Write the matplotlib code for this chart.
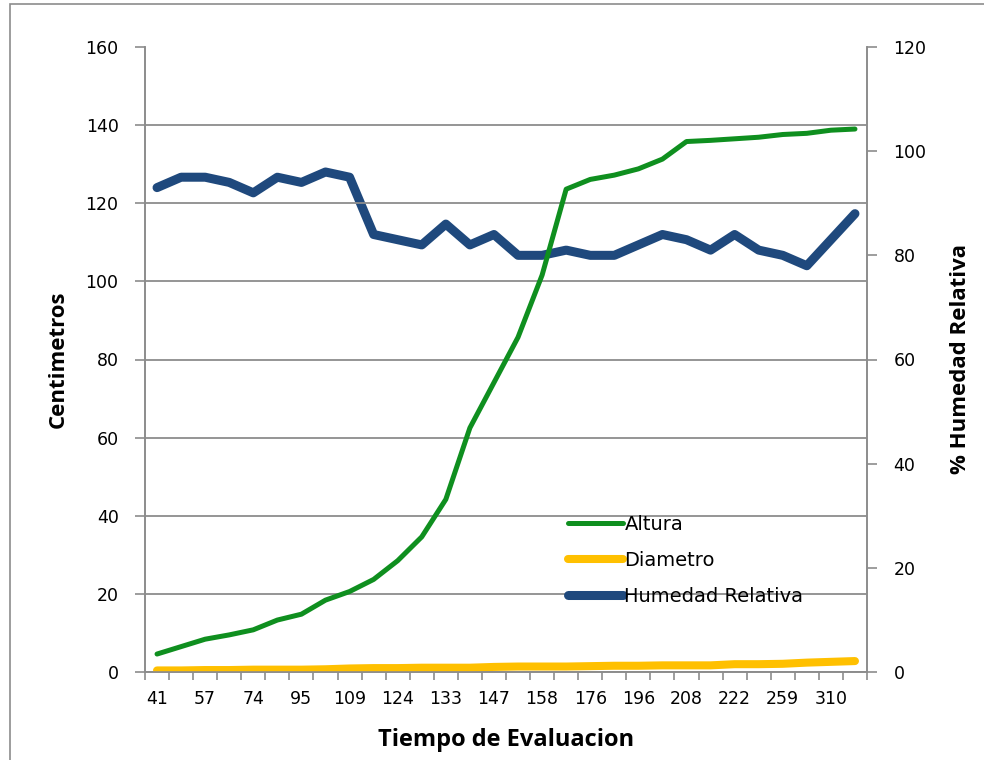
import numpy as np
import matplotlib
matplotlib.use("Agg")
import matplotlib.pyplot as plt
from matplotlib.patches import Rectangle

# Datos de crecimiento y humedad por fecha de evaluacion
etiquetas_x = ["41", "57", "74", "95", "109", "124", "133", "147",
               "158", "176", "196", "208", "222", "259", "310"]
altura = [4.6, 6.5, 8.4, 9.5, 10.8, 13.3, 14.8, 18.4, 20.6, 23.7,
          28.5, 34.6, 44.2, 62.5, 74.1, 85.7, 101.6, 123.6, 126.1, 127.2,
          128.8, 131.3, 135.8, 136.1, 136.5, 136.9, 137.6, 137.9, 138.7, 139.0]
diametro = [0.4, 0.4, 0.5, 0.5, 0.6, 0.6, 0.6, 0.7, 0.9, 1.0,
            1.0, 1.1, 1.1, 1.1, 1.3, 1.4, 1.4, 1.4, 1.5, 1.6,
            1.6, 1.7, 1.7, 1.7, 2.0, 2.0, 2.1, 2.4, 2.6, 2.8]
humedad = [93, 95, 95, 94, 92, 95, 94, 96, 95, 84,
           83, 82, 86, 82, 84, 80, 80, 81, 80, 80,
           82, 84, 83, 81, 84, 81, 80, 78, 83, 88]

gris = "#8c8c8c"
fuente_titulo = ["Open Sans", "DejaVu Sans"]

fig = plt.figure(figsize=(9.84, 7.6), dpi=100)
fig.patch.set_facecolor("white")
# marco exterior del grafico
fig.patches.append(Rectangle((10 / 984, -0.1), 1.2, 1.1 - 4 / 760,
                             transform=fig.transFigure, fill=False,
                             edgecolor=gris, linewidth=1.2))

ax = fig.add_axes([145 / 984, 1 - 672 / 760, 722 / 984, 625 / 760])
ax2 = ax.twinx()

x = np.arange(len(altura))
l1, = ax.plot(x, altura, color="#0f8f1f", lw=3.6, solid_capstyle="round",
              solid_joinstyle="round", label="Altura", zorder=3)
l2, = ax.plot(x, diametro, color="#ffc000", lw=5.8, solid_capstyle="round",
              solid_joinstyle="round", label="Diametro", zorder=2)
l3, = ax2.plot(x, humedad, color="#1f497d", lw=6.5, solid_capstyle="round",
               solid_joinstyle="round", label="Humedad Relativa")

ax.set_xlim(-0.5, len(altura) - 0.5)
ax.set_ylim(0, 160)
ax2.set_ylim(0, 120)
ax.set_yticks(np.arange(0, 161, 20))
ax2.set_yticks(np.arange(0, 121, 20))

# marcas entre categorias, etiquetas cada dos categorias
ax.set_xticks(np.arange(-0.5, len(altura), 1))
ax.set_xticklabels([])
ax.set_xticks(np.arange(0, len(altura), 2), minor=True)
ax.set_xticklabels(etiquetas_x, minor=True)
ax.tick_params(axis="x", which="major", length=6, width=1.2, color=gris)
ax.tick_params(axis="x", which="minor", length=0, pad=13, labelsize=12.5)
ax.tick_params(axis="y", length=7, width=1.2, color=gris, pad=12, labelsize=12.5)
ax2.tick_params(axis="y", length=7, width=1.2, color=gris, pad=12, labelsize=12.5)

ax.yaxis.grid(True, color=gris, lw=1.3)
ax.yaxis.get_gridlines()[-1].set_visible(False)
ax.set_axisbelow(True)

for a in (ax, ax2):
    a.spines["top"].set_visible(False)
    for s in ("left", "right", "bottom"):
        a.spines[s].set_color(gris)
        a.spines[s].set_linewidth(1.2)
    a.patch.set_visible(False)
ax2.set_zorder(ax.get_zorder() - 1)
ax.set_zorder(ax2.get_zorder() + 1)
ax2.patch.set_visible(True)
ax2.patch.set_facecolor("white")

ax.set_xlabel("Tiempo de Evaluacion", family=fuente_titulo, fontweight="bold",
              fontsize=17, labelpad=14)
ax.set_ylabel("Centimetros", family=fuente_titulo, fontweight="bold",
              fontsize=16, labelpad=12)
ax2.set_ylabel("% Humedad Relativa", family=fuente_titulo, fontweight="bold",
               fontsize=16, labelpad=17)

ax.legend(handles=[l1, l2, l3], loc="upper left", bbox_to_anchor=(0.586, 0.252),
          frameon=False, fontsize=14, handlelength=2.8, handletextpad=0.1,
          labelspacing=0.88, borderaxespad=0, borderpad=0)

fig.savefig("out.png", dpi=100)
